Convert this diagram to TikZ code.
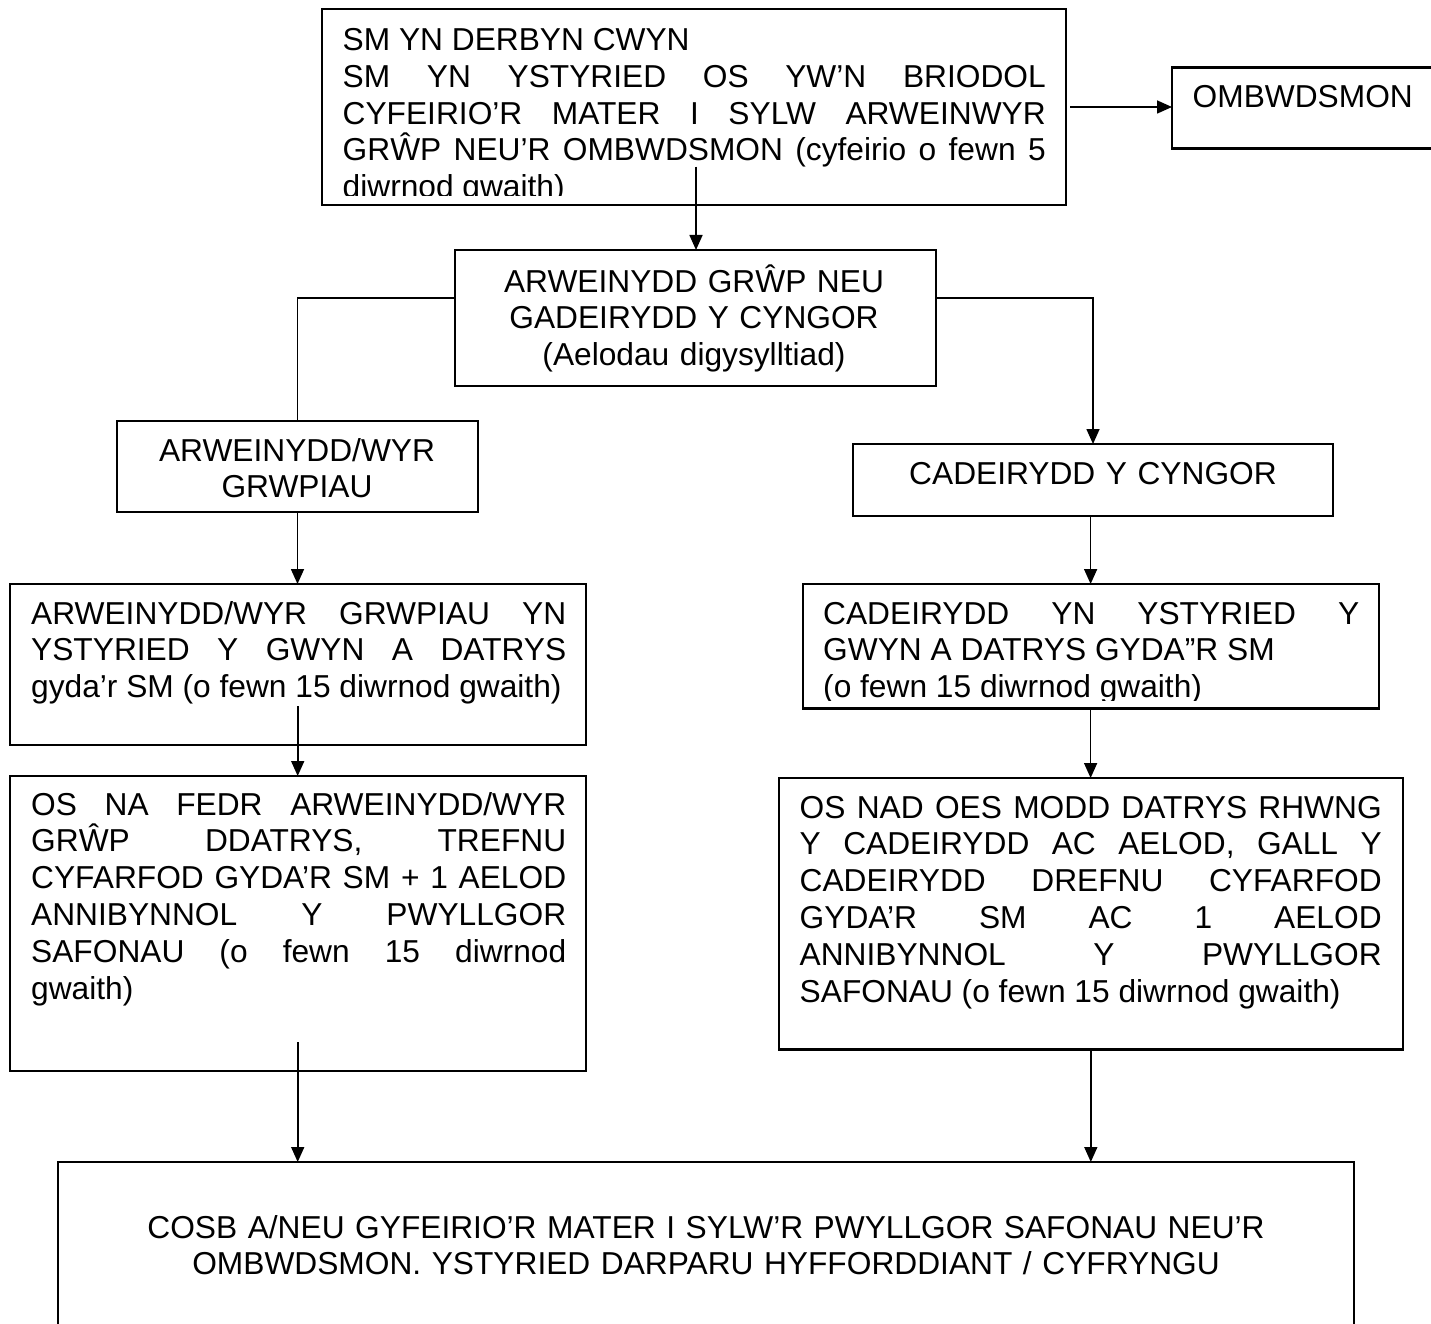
\documentclass[tikz,border=0pt]{standalone}
\usepackage{fontspec}
\setmainfont{Liberation Sans}
\usepackage{tikz}
\usetikzlibrary{arrows.meta}
\tikzstyle{box}=[draw=black, line width=2.2pt, inner sep=0pt, outer sep=0pt, anchor=north west]
\tikzstyle{txt}=[inner sep=0pt, align=justify, anchor=base west, font=\fontsize{31.7}{36.8}\selectfont, execute at begin node={\tolerance=10000\hyphenpenalty=10000}]
\tikzstyle{ctr}=[inner sep=0pt, align=center, anchor=base, font=\fontsize{31.7}{36.8}\selectfont]
\tikzstyle{conn}=[line width=1.6pt]
\tikzstyle{arr}=[line width=1.6pt, -{Triangle[length=15pt, width=13pt]}]

\begin{document}
\begin{tikzpicture}[x=1pt, y=-1pt]
    \useasboundingbox (0,0) rectangle (1431,1324);

    % boxes
    \node[box, minimum width=744pt, minimum height=195.4pt] (cwyn) at (322,9.3) {};
    \node[box, minimum width=273pt, minimum height=81pt] (ombw) at (1172,67.5) {};
    \node[box, minimum width=481pt, minimum height=136pt] (arw) at (455,250) {};
    \node[box, minimum width=361pt, minimum height=90.6pt] (grw) at (117,421) {};
    \node[box, minimum width=480pt, minimum height=72pt] (cad) at (853,444) {};
    \node[box, minimum width=576pt, minimum height=161pt] (grwy) at (10,584) {};
    \node[box, minimum width=576pt, minimum height=124.4pt] (cady) at (802.6,584) {};
    \node[box, minimum width=576pt, minimum height=294.6pt] (osna) at (10,776) {};
    \node[box, minimum width=624.4pt, minimum height=271.5pt] (osnad) at (778.6,778) {};
    \node[box, minimum width=1296pt, minimum height=190pt] (cosb) at (58,1162) {};

    % texts
    \begin{scope}
      \clip (322,9.3) rectangle (1066,196);
      \node[txt, text width=703pt] (cwyn-t) at (342.5,50.6) {SM YN DERBYN CWYN\\
        SM YN YSTYRIED OS YW’N BRIODOL\linebreak
        CYFEIRIO’R MATER I SYLW ARWEINWYR\linebreak
        GRŴP NEU’R OMBWDSMON (cyfeirio o fewn 5\linebreak
        diwrnod gwaith)};
    \end{scope}
    \node[txt] (ombw-t) at (1192.5,107.6) {OMBWDSMON};
    \node[ctr, text width=460pt] (arw-t) at (694,292) {ARWEINYDD GRŴP NEU\\GADEIRYDD Y CYNGOR\\(Aelodau digysylltiad)};
    \node[ctr, text width=340pt] (grw-t) at (297,461) {ARWEINYDD/WYR\\GRWPIAU};
    \node[ctr, text width=460pt] (cad-t) at (1093,484.6) {CADEIRYDD Y CYNGOR};
    \node[txt, text width=535pt] (grwy-t) at (31,624) {ARWEINYDD/WYR GRWPIAU YN\linebreak
      YSTYRIED Y GWYN A DATRYS\linebreak
      gyda’r SM (o fewn 15 diwrnod gwaith)};
    \begin{scope}
      \clip (802.6,584) rectangle (1378.6,700);
      \node[txt, text width=536pt] (cady-t) at (823,624) {CADEIRYDD YN YSTYRIED Y\linebreak
        GWYN A DATRYS GYDA”R SM\\
        (o fewn 15 diwrnod gwaith)};
    \end{scope}
    \node[txt, text width=535pt] (osna-t) at (31,815) {OS NA FEDR ARWEINYDD/WYR\linebreak
      GRŴP DDATRYS, TREFNU\linebreak
      CYFARFOD GYDA’R SM + 1 AELOD\linebreak
      ANNIBYNNOL Y PWYLLGOR\linebreak
      SAFONAU (o fewn 15 diwrnod\linebreak
      gwaith)};
    \node[txt, text width=582pt] (osnad-t) at (799.5,818) {OS NAD OES MODD DATRYS RHWNG\linebreak
      Y CADEIRYDD AC AELOD, GALL Y\linebreak
      CADEIRYDD DREFNU CYFARFOD\linebreak
      GYDA’R SM AC 1 AELOD\linebreak
      ANNIBYNNOL Y PWYLLGOR\linebreak
      SAFONAU (o fewn 15 diwrnod gwaith)};
    \node[ctr, text width=1250pt] (cosb-t) at (706,1238) {COSB A/NEU GYFEIRIO’R MATER I SYLW’R PWYLLGOR SAFONAU NEU’R\\OMBWDSMON. YSTYRIED DARPARU HYFFORDDIANT / CYFRYNGU};

    % connectors
    \coordinate (c1) at (696,166.7);
    \coordinate (c2) at (297.7,706);
    \coordinate (c3) at (297.7,1042);
    \draw[arr] ([xshift=4pt]cwyn.east) -- (cwyn.east -| ombw.west);
    \draw[arr] (c1) -- (c1 |- arw.north);
    \draw[conn] ([yshift=20pt]arw.west) -| (grw.north);
    \draw[arr] ([yshift=20pt]arw.east) -| (cad.north);
    \draw[arr] (grw.south) -- (grw.south |- grwy.north);
    \draw[arr] (cady.north |- cad.south) -- (cady.north);
    \draw[arr] (c2) -- (c2 |- osna.north);
    \draw[arr] (cady.south) -- (cady.south |- osnad.north);
    \draw[arr] (c3) -- (c3 |- cosb.north);
    \draw[arr] (osnad.south) -- (osnad.south |- cosb.north);
\end{tikzpicture}
\end{document}
